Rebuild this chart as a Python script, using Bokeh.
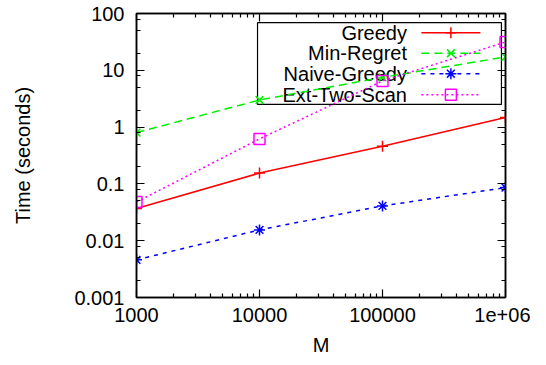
import math
from bokeh.plotting import figure
from bokeh.models import FixedTicker, LogAxis
from bokeh.core.properties import value
from bokeh.embed import file_html
from bokeh.resources import INLINE

# ---- data ----
M = [1000, 10000, 100000, 1000000]
greedy = [0.037, 0.155, 0.46, 1.48]
min_regret = [0.8, 3.0, 7.5, 17.2]
naive_greedy = [0.0046, 0.0155, 0.041, 0.086]
ext_two_scan = [0.048, 0.62, 6.5, 31.5]

series_names = ["Greedy", "Min-Regret", "Naive-Greedy", "Ext-Two-Scan"]
x_ticks = [1000, 10000, 100000, 1000000]
x_tick_labels = ["1000", "10000", "100000", "1e+06"]
y_ticks = [0.001, 0.01, 0.1, 1, 10, 100]
y_tick_labels = ["0.001", "0.01", "0.1", "1", "10", "100"]

FONT = "Liberation Sans"
FS = "20px"

X_LO, X_HI = 1000, 1000000
Y_LO, Y_HI = 0.001, 100

p = figure(width=530, height=362, x_axis_type="log", y_axis_type="log",
           x_range=(X_LO, X_HI), y_range=(Y_LO, Y_HI),
           output_backend="svg", toolbar_location=None,
           min_border_left=136, min_border_right=25,
           min_border_top=13, min_border_bottom=65)
p.grid.visible = False
p.outline_line_color = "black"
p.outline_line_width = 1.5
p.background_fill_color = "white"
p.border_fill_color = "white"

x_minor = [m * 10 ** k for k in range(3, 6) for m in range(2, 10)]
y_minor = [m * 10 ** k for k in range(-3, 2) for m in (2, 5, 8)]
xt = FixedTicker(ticks=x_ticks, minor_ticks=x_minor)
yt = FixedTicker(ticks=y_ticks, minor_ticks=y_minor)

def style_axis(ax, show_labels=True):
    ax.axis_line_color = "black"
    ax.axis_line_width = 1.5
    ax.major_tick_in = 8
    ax.major_tick_out = 0
    ax.minor_tick_in = 4
    ax.minor_tick_out = 0
    ax.major_tick_line_width = 1.2
    ax.minor_tick_line_width = 1.2
    ax.major_label_text_font = FONT
    ax.major_label_text_font_size = FS
    ax.major_label_text_color = "black" if show_labels else None
    ax.axis_label_text_font = FONT
    ax.axis_label_text_font_size = FS
    ax.axis_label_text_font_style = "normal"
    ax.axis_label_text_color = "black"

p.xaxis.ticker = xt
p.yaxis.ticker = yt
p.xaxis.major_label_overrides = dict(zip(x_ticks, x_tick_labels))
p.yaxis.major_label_overrides = {t: l for t, l in zip(y_ticks, y_tick_labels)}
for ax in p.xaxis + p.yaxis:
    style_axis(ax)
p.xaxis.axis_label = "M"
p.yaxis.axis_label = "Time (seconds)"
p.xaxis.major_label_standoff = 10
p.yaxis.major_label_standoff = 12
p.xaxis.axis_label_standoff = 9
p.yaxis.axis_label_standoff = 37

top_ax = LogAxis(ticker=FixedTicker(ticks=x_ticks, minor_ticks=x_minor))
right_ax = LogAxis(ticker=FixedTicker(ticks=y_ticks, minor_ticks=y_minor))
style_axis(top_ax, False)
style_axis(right_ax, False)
top_ax.major_label_text_font_size = "0px"
right_ax.major_label_text_font_size = "0px"
p.add_layout(top_ax, "above")
p.add_layout(right_ax, "right")

# ---- legend (layout, positioned in frame fractions) ----
def fx(f):
    return 10 ** (math.log10(X_LO) + f * (math.log10(X_HI) - math.log10(X_LO)))

def fy(f):
    return 10 ** (math.log10(Y_HI) - f * (math.log10(Y_HI) - math.log10(Y_LO)))

p.quad(left=[fx(0.328)], right=[fx(0.989)], top=[fy(0.032)], bottom=[fy(0.32)],
       fill_alpha=0, line_color="black", line_width=1.2)

colors = ["#ff0000", "#00ee00", "#0000ff", "#ff00ff"]
dashes = ["solid", "8 5", "4 5", "2 3"]
markers = ["cross", "x", "asterisk", "square"]
row_f = [0.068, 0.14, 0.212, 0.286]
text_right = fx(0.733)
l0, l1, lm = fx(0.772), fx(0.932), fx(0.852)
for name, c, d, mk, rf in zip(series_names, colors, dashes, markers, row_f):
    p.text(x=[text_right], y=[fy(rf)], text=[name], text_align="right",
           text_baseline="middle", text_font=value(FONT), text_font_size=FS,
           text_color="black")
    p.line(x=[l0, l1], y=[fy(rf), fy(rf)], line_color=c, line_dash=d, line_width=1.5)
    p.scatter(x=[lm], y=[fy(rf)], marker=mk, size=11, line_color=c,
              fill_alpha=0, line_width=1.5)

for ys, c, d, mk in zip([greedy, min_regret, naive_greedy, ext_two_scan],
                        colors, dashes, markers):
    p.line(M, ys, line_color=c, line_dash=d, line_width=1.5)
    p.scatter(M, ys, marker=mk, size=11, line_color=c, fill_alpha=0, line_width=1.5)

open("out.html", "w").write(file_html(p, INLINE))
